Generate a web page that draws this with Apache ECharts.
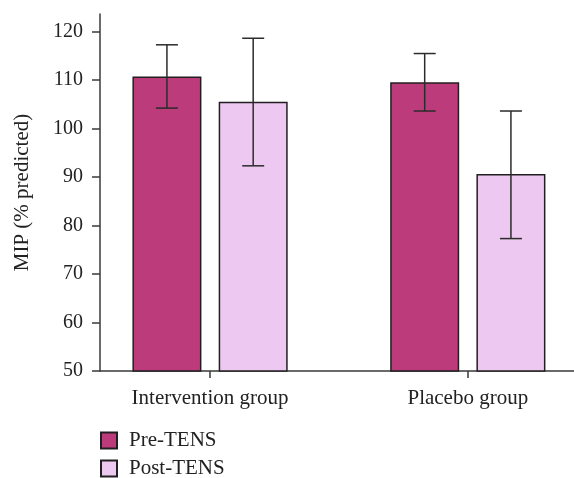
<!DOCTYPE html>
<html>
<head>
<meta charset="utf-8">
<script src="https://cdn.jsdelivr.net/npm/echarts@6/dist/echarts.min.js"></script>
<style>html,body{margin:0;padding:0;background:#fff}#c{width:574px;height:478px}</style>
</head>
<body>
<div id="c"></div>
<script>
const categories = ['Intervention group', 'Placebo group'];
const seriesNames = ['Pre-TENS', 'Post-TENS'];
const preMeans = [110.7, 109.55];
const postMeans = [105.5, 90.6];
const preLow = [104.2, 103.6];
const preHigh = [117.25, 115.45];
const postLow = [92.3, 77.3];
const postHigh = [118.6, 103.6];
const yTicks = [50, 60, 70, 80, 90, 100, 110, 120];

const FONT = '"Liberation Serif", "Times New Roman", serif';
const BAR_W = 69;
const OFFSET = (BAR_W + BAR_W * 0.25) / 2;

function barData(vals) { return vals.map((v, i) => [i + 1, v]); }
function errData(lo, hi) { return lo.map((l, i) => [i + 1, l, hi[i]]); }

function errRender(offset) {
  return function (params, api) {
    const x = api.value(0);
    const pLo = api.coord([x, api.value(1)]);
    const pHi = api.coord([x, api.value(2)]);
    const cx = pLo[0] + offset;
    const cap = 11;
    const style = { stroke: '#2b2b2b', lineWidth: 1.5 };
    return {
      type: 'group',
      children: [
        { type: 'line', shape: { x1: cx, y1: pLo[1], x2: cx, y2: pHi[1] }, style },
        { type: 'line', shape: { x1: cx - cap, y1: pLo[1], x2: cx + cap, y2: pLo[1] }, style },
        { type: 'line', shape: { x1: cx - cap, y1: pHi[1], x2: cx + cap, y2: pHi[1] }, style }
      ]
    };
  };
}

function legendFor(name, top) {
  return {
    left: 100, top: top, padding: 0,
    itemWidth: 16, itemHeight: 16, icon: 'rect',
    textStyle: { fontFamily: FONT, fontSize: 21, color: '#222', padding: [0, 0, 0, 7] },
    data: [name]
  };
}

const chart = echarts.init(document.getElementById('c'));
chart.setOption({
  animation: false,
  backgroundColor: '#fff',
  grid: { left: 100, right: 0, top: 14, bottom: 107, containLabel: false },
  legend: [legendFor(seriesNames[0], 430), legendFor(seriesNames[1], 458)],
  xAxis: {
    type: 'value', min: 0.573, max: 2.412,
    splitLine: { show: false },
    axisLine: { show: true, lineStyle: { color: '#3a3a3a', width: 1.5 } },
    axisTick: { show: true, length: 7, customValues: [1, 2], lineStyle: { color: '#3a3a3a', width: 1.5 } },
    axisLabel: {
      customValues: [1, 2], margin: 17,
      formatter: v => categories[Math.round(v) - 1] || '',
      fontFamily: FONT, fontSize: 21, color: '#222'
    }
  },
  yAxis: {
    type: 'value', min: 50, max: 123.6,
    name: 'MIP (% predicted)', nameLocation: 'middle', nameGap: 67,
    nameTextStyle: { fontFamily: FONT, fontSize: 21, color: '#222' },
    splitLine: { show: false },
    axisLine: { show: true, lineStyle: { color: '#3a3a3a', width: 1.5 } },
    axisTick: { show: true, length: 8, customValues: yTicks, lineStyle: { color: '#3a3a3a', width: 1.5 } },
    axisLabel: { customValues: yTicks, margin: 17, fontFamily: FONT, fontSize: 20, color: '#222' }
  },
  series: [
    {
      name: seriesNames[0], type: 'bar', data: barData(preMeans),
      barWidth: BAR_W, barGap: '25%',
      itemStyle: { color: '#bc3b7b', borderColor: '#231f20', borderWidth: 1.5 }
    },
    {
      name: seriesNames[1], type: 'bar', data: barData(postMeans),
      barWidth: BAR_W, barGap: '25%',
      itemStyle: { color: '#edc8f1', borderColor: '#231f20', borderWidth: 1.5 }
    },
    { type: 'custom', data: errData(preLow, preHigh), renderItem: errRender(-OFFSET), z: 5, silent: true },
    { type: 'custom', data: errData(postLow, postHigh), renderItem: errRender(OFFSET), z: 5, silent: true }
  ]
});
</script>
</body>
</html>
